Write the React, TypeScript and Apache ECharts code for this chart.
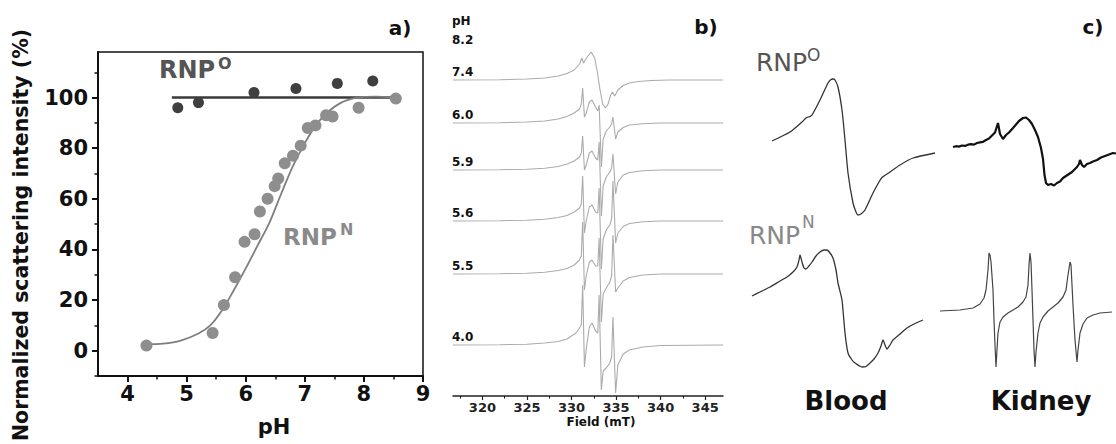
import React, { useEffect, useRef } from 'react';
import * as echarts from 'echarts';

const FONT = 'DejaVu Sans';

// ---------- Panel a ----------
const phTicks = [4, 5, 6, 7, 8, 9];
const phMinorTicks = [4.5, 5.5, 6.5, 7.5, 8.5];
const intensityTicks = [0, 20, 40, 60, 80, 100];
const intensityMinorTicks = [-10, 10, 30, 50, 70, 90, 110];
const rnpOPoints = [[4.85, 96], [5.2, 98], [6.14, 102], [6.85, 103.6], [7.55, 105.6], [8.15, 106.5]];
const rnpOLine = [[4.75, 100], [8.5, 100]];
const rnpNPoints = [
  [4.32, 2], [5.44, 7], [5.63, 18], [5.82, 29], [5.98, 43], [6.15, 46], [6.24, 55], [6.37, 60],
  [6.49, 65], [6.55, 68], [6.66, 74], [6.8, 77], [6.93, 81], [7.05, 88], [7.18, 89], [7.36, 93],
  [7.47, 92.5], [7.91, 96], [8.54, 99.6],
];
const rnpNFit = [
  [4.32, 2.6], [4.6, 2.8], [4.9, 4], [5.2, 6.8], [5.4, 10], [5.6, 16], [5.8, 24], [6.0, 32.5],
  [6.2, 41.5], [6.4, 50.5], [6.6, 62], [6.8, 73], [7.0, 82], [7.2, 89.5], [7.4, 94.5], [7.6, 97.8],
  [7.8, 99.6], [8.0, 100.3], [8.2, 100.4], [8.5, 100],
];

// ---------- Panel b ----------
const fieldTicks = [320, 325, 330, 335, 340, 345];
const fieldMinorTicks = [317.5, 322.5, 327.5, 332.5, 337.5, 342.5];
const traceLabels = ['7.4', '6.0', '5.9', '5.6', '5.5', '4.0'];
const traceOffsets = [316, 273, 226, 175, 122, 51];
const trace74 = [[316.7,0],[322,0.3],[325,1],[327,2],[328.5,4],[329.5,6.5],[330.3,10],[330.9,16],[331.15,22],[331.35,17],[331.6,21],[332.2,28],[332.6,22],[332.9,8],[333.2,-10],[333.5,-24],[333.8,-28],[334.1,-24],[334.4,-15],[334.6,-12],[334.85,-16],[335.2,-10],[335.8,-5.5],[336.5,-3],[337.5,-1.5],[339,-0.5],[341,0],[347,0]];
const trace60 = [[316.7,0],[322,0.3],[325,1],[327,2],[328.5,4],[329.5,6.5],[330.3,10],[330.9,14],[331.1,19],[331.25,35],[331.45,6],[331.65,10],[332.0,21],[332.3,23],[332.7,16],[332.95,12],[333.1,18],[333.35,-44],[333.55,-16],[333.9,-8],[334.3,-4],[334.5,-1],[334.65,6],[334.95,-16],[335.2,-9],[335.8,-4.5],[336.5,-2],[338,-0.7],[340,0],[347,0]];
const trace59 = [[316.7,0],[322,0.3],[325,0.8],[327,1.8],[328.5,3.5],[329.5,6],[330.3,9],[330.9,13],[331.1,17],[331.25,34],[331.45,0],[331.65,5],[332.0,17],[332.3,19],[332.7,12],[332.95,10],[333.1,28],[333.35,-46],[333.55,-16],[333.9,-7],[334.3,-2],[334.5,2],[334.65,16],[334.95,-24],[335.2,-12],[335.8,-5],[336.5,-2.5],[338,-0.8],[340,0],[347,0]];
const trace56 = [[316.7,0],[322,0.3],[325,0.8],[327,1.8],[328.5,3.5],[329.5,5.5],[330.3,9],[330.9,13],[331.1,17],[331.25,45],[331.45,-12],[331.65,0],[332.0,14],[332.3,16],[332.7,9],[332.95,8],[333.1,33],[333.35,-48],[333.55,-18],[333.9,-9],[334.3,-4],[334.5,2],[334.65,40],[334.95,-22],[335.2,-12],[335.8,-5.5],[336.5,-2.5],[338,-0.8],[340,0],[347,0]];
const trace55 = [[316.7,0],[322,0.3],[325,0.8],[327,1.8],[328.5,3.5],[329.5,5.5],[330.3,9],[330.9,14],[331.1,18],[331.25,52],[331.45,-16],[331.65,-2],[332.0,12],[332.3,14],[332.7,8],[332.95,8],[333.1,36],[333.35,-48],[333.55,-20],[333.9,-14],[334.3,-8],[334.5,-2],[334.65,39],[334.95,-18],[335.2,-14],[335.8,-7],[336.5,-3.5],[338,-1],[340,0],[347,0]];
const trace40 = [[316.7,0],[322,0.3],[325,0.8],[327,2],[328.5,3.5],[329.5,6],[330.5,12],[330.9,17],[331.1,20],[331.25,60],[331.45,-22],[331.65,-4],[332.0,18],[332.3,22],[332.7,14],[332.95,12],[333.1,50],[333.35,-45],[333.55,-26],[333.9,-23],[334.3,-18],[334.5,-12],[334.65,28],[334.95,-48],[335.2,-20],[335.8,-9],[336.5,-5],[338,-2],[340,-0.5],[347,0]];
const traces = [trace74, trace60, trace59, trace56, trace55, trace40];

// ---------- Panel c ----------
const bloodO = [[0,4],[18,13],[30,23],[34,27],[36,28],[38,28.5],[40,30],[48,45],[56,62],[59,65.5],[61,66],[63,65],[66,58],[70,35],[73,5],[76,-28],[81,-58],[84,-67],[86,-70],[89,-69],[93,-65],[101,-48],[107,-37],[110,-32.5],[112,-31],[118,-27],[128,-20],[141,-13],[163,-8]];
const kidneyO = [[0,-2],[3,-1.2],[6,-1.6],[9,-0.5],[12,-0.9],[15,0.3],[18,0.8],[21,0.4],[24,2],[27,2.6],[30,3.2],[33,5],[36,6.5],[39,9.5],[42,12.5],[45,22],[47,11],[50,6],[53,10],[56,12.5],[60,17],[63,20.5],[66,24],[70,27],[73,27.5],[76,25],[79,21],[82,15],[85,8],[88,-3],[90,-14],[91.5,-30],[93,-38],[95,-40],[98,-39],[101,-40.5],[104,-38],[107,-36.5],[110,-33],[113,-31],[116,-29],[119,-27],[122,-24],[124,-22],[126,-19],[127,-15],[129,-20],[131,-22],[134,-19],[137,-18],[140,-16.5],[144,-15],[148,-12.5],[152,-11],[156,-9.5],[160,-8],[163,-8.5]];
const bloodN = [[0,14],[8,18],[18,23],[28,29],[35,33],[41,38],[45,43],[47,50],[48,55],[50,48],[52,42],[54,41],[57,44],[60,48],[64,54],[68,58],[72,60],[75,60],[78,57],[81,52],[84,40],[86,27],[90,10],[93,-23],[96,-43],[100,-50],[103,-53],[110,-57],[114,-56.5],[118,-53],[122,-49],[126,-43],[129,-36],[131,-30],[133,-35],[135,-39],[138,-35],[141,-30],[148,-24],[155,-18],[163,-13.5],[171,-10]];
const kidneyN = [[0,-1],[20,0],[33,2],[40,6],[44,12],[46,20],[48,40],[49,57],[50,55],[51,48],[53,20],[54,-10],[55,-35],[56,-57],[57,-40],[58,-23],[60,-12],[63,-7],[68,-3],[73,0],[78,3],[83,8],[86,13],[88,25],[89,45],[90,57],[91,48],[92,20],[93,-10],[94,-40],[95,-57],[96,-42],[98,-23],[100,-13],[103,-7],[108,-1],[113,3],[118,7],[123,13],[126,20],[128,35],[130,48],[131,45],[132,25],[133,5],[135,-30],[137,-52],[138,-40],[140,-23],[143,-14],[147,-8],[153,-5],[160,-3],[172,-2]];

function textEl(text: string, x: number, y: number, opts: any = {}) {
  const align = opts.align || 'left';
  const vAlign = opts.verticalAlign || 'middle';
  return {
    type: 'text',
    x, y,
    rotation: opts.rotation || 0,
    z: 100,
    style: {
      text,
      x: 0, y: 0,
      font: `${opts.weight || 'bold'} ${opts.size || 20}px "${FONT}"`,
      fill: opts.color || '#111',
      align, textAlign: align,
      verticalAlign: vAlign, textVerticalAlign: vAlign,
    },
  };
}

export default function App() {
  const ref = useRef<HTMLDivElement>(null);
  useEffect(() => {
    const chart = echarts.init(ref.current!, null, { renderer: 'svg' });
    const hiddenAxis = (gridIndex: number, min: number, max: number) => ({
      type: 'value', gridIndex, min, max, show: false,
    });
    const minorAxis = (gridIndex: number, position: string, min: number, max: number, ticks: number[], len: number, width: number) => ({
      type: 'value', gridIndex, position, min, max,
      axisLine: { show: false, onZero: false },
      axisLabel: { show: false },
      splitLine: { show: false },
      axisTick: { show: true, customValues: ticks, length: len, lineStyle: { color: '#111', width } },
    });

    const graphic: any[] = [
      textEl('Normalized scattering intensity (%)', 21, 235, { size: 20.5, align: 'center', rotation: Math.PI / 2 }),
      textEl('pH', 274, 427, { size: 21, align: 'center' }),
      textEl('a)', 400, 28, { size: 20, align: 'center' }),
      textEl('RNP', 159, 70, { size: 24, color: '#555' }),
      textEl('O', 218, 63, { size: 16, color: '#555' }),
      textEl('RNP', 283, 237, { size: 23, color: '#8a8a8a' }),
      textEl('N', 340, 229, { size: 16, color: '#8a8a8a' }),
      textEl('pH', 452, 21, { size: 12 }),
      textEl('8.2', 452, 40, { size: 12 }),
      textEl('b)', 706, 27, { size: 20, align: 'center' }),
      textEl('Field (mT)', 601, 422, { size: 12, align: 'center' }),
      textEl('c)', 1093, 27, { size: 20, align: 'center' }),
      textEl('RNP', 756, 62, { size: 25, weight: 'normal', color: '#555' }),
      textEl('O', 807, 55, { size: 17, weight: 'normal', color: '#555' }),
      textEl('RNP', 749, 235, { size: 25, weight: 'normal', color: '#888' }),
      textEl('N', 802, 222, { size: 17, weight: 'normal', color: '#888' }),
      textEl('Blood', 846, 401, { size: 26, align: 'center' }),
      textEl('Kidney', 1041, 401, { size: 26, align: 'center' }),
    ];
    // pH labels of the stacked spectra, placed above each trace baseline
    const gridBTop = 40, gridBHeight = 356;
    traceLabels.forEach((lab, i) => {
      const baselineY = gridBTop + gridBHeight - traceOffsets[i];
      graphic.push(textEl(lab, 452, baselineY - 8, { size: 12 }));
    });

    const traceSeries = traces.map((t, i) => ({
      type: 'line',
      xAxisIndex: 2, yAxisIndex: 2,
      data: t.map(([x, y]) => [x, y + traceOffsets[i]]),
      showSymbol: false, symbol: 'none',
      lineStyle: { color: '#ababab', width: 1.1 },
      silent: true,
    }));

    const option: any = {
      animation: false,
      backgroundColor: '#fff',
      textStyle: { fontFamily: FONT },
      grid: [
        { left: 98, top: 52, width: 325, height: 324, show: true, borderColor: '#111', borderWidth: 1.5, backgroundColor: 'transparent' },
        { left: 453, top: gridBTop, width: 270, height: gridBHeight },
        { left: 772, top: 70, width: 163, height: 150 },
        { left: 953, top: 70, width: 163, height: 150 },
        { left: 752, top: 240, width: 171, height: 140 },
        { left: 940, top: 240, width: 176, height: 140 },
      ],
      xAxis: [
        {
          type: 'value', gridIndex: 0, position: 'bottom', min: 3.5, max: 9,
          axisLine: { show: true, onZero: false, lineStyle: { color: '#111', width: 2 } },
          axisTick: { show: true, customValues: phTicks, length: 6, lineStyle: { color: '#111', width: 2 } },
          axisLabel: { customValues: phTicks, fontSize: 21, fontWeight: 'bold', color: '#111', margin: 7, fontFamily: FONT },
          splitLine: { show: false },
        },
        minorAxis(0, 'bottom', 3.5, 9, phMinorTicks, 3.5, 1.5),
        {
          type: 'value', gridIndex: 1, position: 'bottom', min: 316.7, max: 347,
          axisLine: { show: true, onZero: false, lineStyle: { color: '#222', width: 1.5 } },
          axisTick: { show: true, customValues: fieldTicks, length: 4, lineStyle: { color: '#222', width: 1.2 } },
          axisLabel: { customValues: fieldTicks, fontSize: 13, fontWeight: 'bold', color: '#222', margin: 5, fontFamily: FONT },
          splitLine: { show: false },
        },
        minorAxis(1, 'bottom', 316.7, 347, fieldMinorTicks, 2.5, 1),
        hiddenAxis(2, 0, 163),
        hiddenAxis(3, 0, 163),
        hiddenAxis(4, 0, 171),
        hiddenAxis(5, 0, 176),
      ],
      yAxis: [
        {
          type: 'value', gridIndex: 0, position: 'left', min: -10, max: 118,
          axisLine: { show: true, onZero: false, lineStyle: { color: '#111', width: 2 } },
          axisTick: { show: true, customValues: intensityTicks, length: 6, lineStyle: { color: '#111', width: 2 } },
          axisLabel: { customValues: intensityTicks, fontSize: 21, fontWeight: 'bold', color: '#111', margin: 10, fontFamily: FONT },
          splitLine: { show: false },
        },
        minorAxis(0, 'left', -10, 118, intensityMinorTicks, 3.5, 1.5),
        hiddenAxis(1, 0, 356),
        hiddenAxis(2, -75, 75),
        hiddenAxis(3, -75, 75),
        hiddenAxis(4, -70, 70),
        hiddenAxis(5, -70, 70),
      ],
      graphic,
      series: [
        {
          type: 'line', xAxisIndex: 0, yAxisIndex: 0, data: rnpOLine,
          symbol: 'none', lineStyle: { color: '#3a3a3a', width: 2.5 }, z: 2,
        },
        {
          type: 'line', xAxisIndex: 0, yAxisIndex: 0, data: rnpNFit, smooth: 0.3,
          symbol: 'none', lineStyle: { color: '#7e7e7e', width: 1.8 }, z: 2,
        },
        {
          type: 'scatter', xAxisIndex: 0, yAxisIndex: 0, data: rnpOPoints,
          symbolSize: 11, itemStyle: { color: '#3f3f3f', opacity: 1 }, z: 3,
        },
        {
          type: 'scatter', xAxisIndex: 0, yAxisIndex: 0, data: rnpNPoints,
          symbolSize: 12, itemStyle: { color: '#8e8e8e', opacity: 1 }, z: 3,
        },
        ...traceSeries,
        {
          type: 'line', xAxisIndex: 4, yAxisIndex: 3, data: bloodO, smooth: 0.2,
          symbol: 'none', lineStyle: { color: '#333', width: 1.3 },
        },
        {
          type: 'line', xAxisIndex: 5, yAxisIndex: 4, data: kidneyO,
          symbol: 'none', lineStyle: { color: '#111', width: 2.2 },
        },
        {
          type: 'line', xAxisIndex: 6, yAxisIndex: 5, data: bloodN, smooth: 0.2,
          symbol: 'none', lineStyle: { color: '#333', width: 1.3 },
        },
        {
          type: 'line', xAxisIndex: 7, yAxisIndex: 6, data: kidneyN,
          symbol: 'none', lineStyle: { color: '#444', width: 1.2 },
        },
      ],
    };
    chart.setOption(option);
    return () => chart.dispose();
  }, []);
  return (
    <div
      ref={ref}
      style={{ position: 'fixed', left: 0, top: 0, width: 1116, height: 444, background: '#fff' }}
    />
  );
}
